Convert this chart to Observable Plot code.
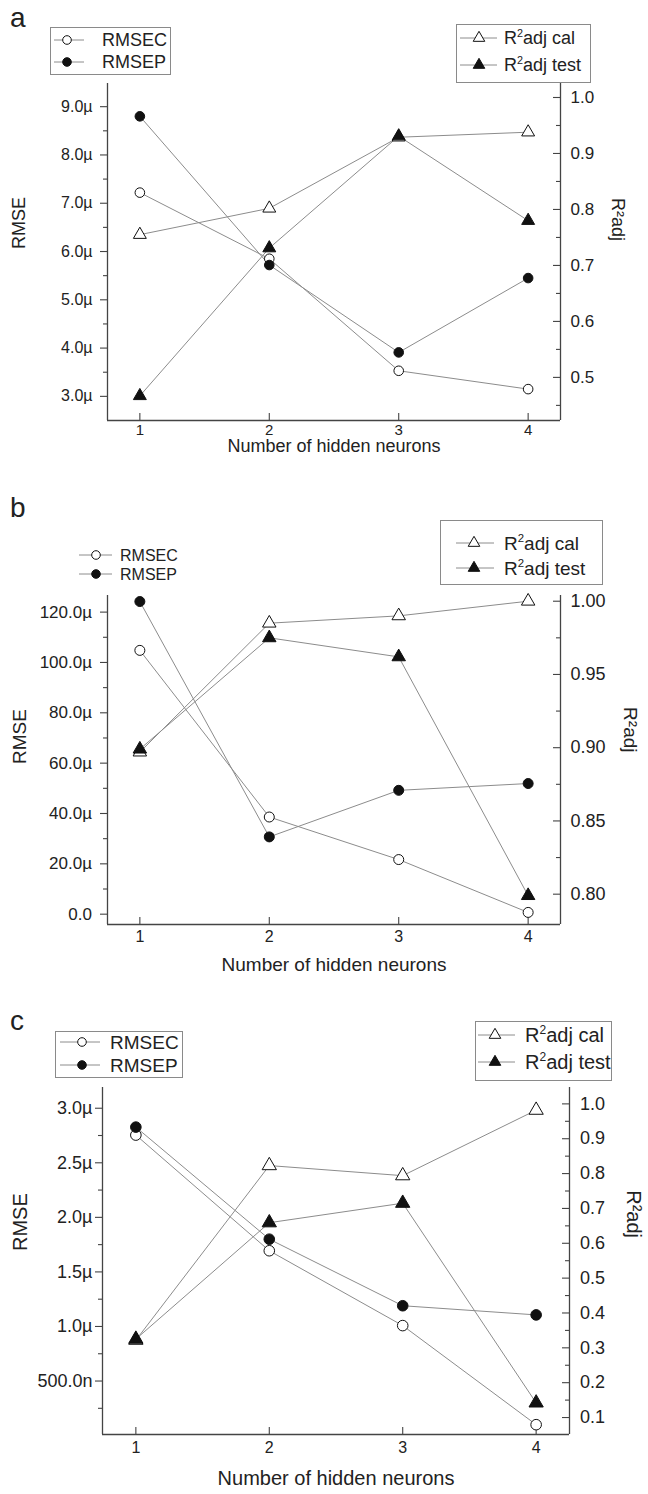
<!DOCTYPE html>
<html><head><meta charset="utf-8">
<script src="https://cdn.jsdelivr.net/npm/d3@7"></script>
<script src="https://cdn.jsdelivr.net/npm/@observablehq/plot@0.6"></script>
<style>
body{margin:0;background:#fff;}
#root{position:relative;width:648px;height:1494px;overflow:hidden;background:#fff;}
</style></head><body><div id="root"></div>
<script>
// ---------- data ----------
const neurons = [1, 2, 3, 4];
const xTickLabels = ["1", "2", "3", "4"];
const xTitle = "Number of hidden neurons";
const seriesNames = ["RMSEC", "RMSEP", "R²adj cal", "R²adj test"];

// panel a (RMSE in µ)
const rmsecA = [7.22, 5.85, 3.53, 3.15];
const rmsepA = [8.80, 5.72, 3.91, 5.45];
const r2CalA = [0.755, 0.802, 0.929, 0.938];
const r2TestA = [0.467, 0.731, 0.931, 0.780];
const rmseTicksA = [3, 4, 5, 6, 7, 8, 9];
const rmseLabelsA = ["3.0µ", "4.0µ", "5.0µ", "6.0µ", "7.0µ", "8.0µ", "9.0µ"];
const rmseMinorA = [3.5, 4.5, 5.5, 6.5, 7.5, 8.5];
const r2TicksA = [0.5, 0.6, 0.7, 0.8, 0.9, 1.0];
const r2LabelsA = ["0.5", "0.6", "0.7", "0.8", "0.9", "1.0"];
const r2MinorA = [0.45, 0.55, 0.65, 0.75, 0.85, 0.95];

// panel b (RMSE in µ)
const rmsecB = [104.8, 38.6, 21.7, 0.7];
const rmsepB = [124.2, 30.7, 49.2, 51.9];
const r2CalB = [0.897, 0.985, 0.990, 1.000];
const r2TestB = [0.899, 0.975, 0.962, 0.799];
const rmseTicksB = [0, 20, 40, 60, 80, 100, 120];
const rmseLabelsB = ["0.0", "20.0µ", "40.0µ", "60.0µ", "80.0µ", "100.0µ", "120.0µ"];
const rmseMinorB = [10, 30, 50, 70, 90, 110];
const r2TicksB = [0.80, 0.85, 0.90, 0.95, 1.00];
const r2LabelsB = ["0.80", "0.85", "0.90", "0.95", "1.00"];
const r2MinorB = [0.825, 0.875, 0.925, 0.975];

// panel c (RMSE in µ)
const rmsecC = [2.754, 1.694, 1.008, 0.10];
const rmsepC = [2.827, 1.80, 1.19, 1.106];
const r2CalC = [0.322, 0.823, 0.794, 0.982];
const r2TestC = [0.325, 0.659, 0.715, 0.142];
const rmseTicksC = [0.5, 1.0, 1.5, 2.0, 2.5, 3.0];
const rmseLabelsC = ["500.0n", "1.0µ", "1.5µ", "2.0µ", "2.5µ", "3.0µ"];
const rmseMinorC = [0.25, 0.75, 1.25, 1.75, 2.25, 2.75];
const r2TicksC = [0.1, 0.2, 0.3, 0.4, 0.5, 0.6, 0.7, 0.8, 0.9, 1.0];
const r2LabelsC = ["0.1", "0.2", "0.3", "0.4", "0.5", "0.6", "0.7", "0.8", "0.9", "1.0"];
const r2MinorC = [0.15, 0.25, 0.35, 0.45, 0.55, 0.65, 0.75, 0.85, 0.95];

// ---------- layout ----------
const FONT = '"Liberation Sans", Arial, Helvetica, sans-serif';
const AX = "#444", LN = "#8c8c8c", MK = "#111", TXT = "#222";
const root = document.getElementById("root");

const panels = [
  {top: 0, height: 470, mt: 83, mb: 50, ml: 107, mr: 88, yL: [2.5, 9.48], yR: [0.423, 1.025],
   rmsec: rmsecA, rmsep: rmsepA, cal: r2CalA, test: r2TestA,
   lMaj: rmseTicksA, lLab: rmseLabelsA, lMin: rmseMinorA, rMaj: r2TicksA, rLab: r2LabelsA, rMin: r2MinorA,
   lfs: 16, rfs: 17, xfs: 15, tfs: 18, lDx: -15, rDx: 10, xlDy: 14, xtDy: 31.5,
   ytX: 18.5, ytDy: -3, rtX: 617, rtDy: -11, r: 4.8},
  {top: 470, height: 495, mt: 125, mb: 41, ml: 107, mr: 88, yL: [-4.1, 126.6], yR: [0.7793, 1.0039],
   rmsec: rmsecB, rmsep: rmsepB, cal: r2CalB, test: r2TestB,
   lMaj: rmseTicksB, lLab: rmseLabelsB, lMin: rmseMinorB, rMaj: r2TicksB, rLab: r2LabelsB, rMin: r2MinorB,
   lfs: 17, rfs: 18, xfs: 16, tfs: 19, lDx: -15.5, rDx: 10, xlDy: 17, xtDy: 46,
   ytX: 19.5, ytDy: 4, rtX: 630, rtDy: -7.5, r: 5},
  {top: 965, height: 529, mt: 122, mb: 60, ml: 102, mr: 79, yL: [0.01, 3.19], yR: [0.0513, 1.047],
   rmsec: rmsecC, rmsep: rmsepC, cal: r2CalC, test: r2TestC,
   lMaj: rmseTicksC, lLab: rmseLabelsC, lMin: rmseMinorC, rMaj: r2TicksC, rLab: r2LabelsC, rMin: r2MinorC,
   lfs: 18, rfs: 18, xfs: 16, tfs: 20, lDx: -10, rDx: 10.5, xlDy: 18, xtDy: 50,
   ytX: 20, ytDy: -10, rtX: 633, rtDy: -23, r: 5.3}
];

function layer(p, yDomain, marks) {
  const svg = Plot.plot({
    width: 648, height: p.height,
    marginTop: p.mt, marginBottom: p.mb, marginLeft: p.ml, marginRight: p.mr,
    x: {domain: [0.75, 4.25], axis: null},
    y: {domain: yDomain, axis: null},
    style: {background: "transparent", fontFamily: FONT, color: TXT, overflow: "visible"},
    marks
  });
  svg.style.position = "absolute";
  svg.style.top = p.top + "px";
  svg.style.left = "0px";
  root.appendChild(svg);
}

const series = (vals) => ({x: (d) => d, y: (d, i) => vals[i]});

for (const p of panels) {
  const innerW = 648 - p.ml - p.mr;
  const innerH = p.height - p.mt - p.mb;
  // left scale: axes + lines
  layer(p, p.yL, [
    Plot.ruleX([0.75], {stroke: AX, strokeWidth: 1.3}),
    Plot.ruleY([p.yL[0]], {stroke: AX, strokeWidth: 1.3}),
    Plot.ruleY(p.lMaj, {stroke: AX, strokeWidth: 1.1, insetLeft: -7, insetRight: innerW}),
    Plot.ruleY(p.lMin, {stroke: AX, strokeWidth: 1.1, insetLeft: -4, insetRight: innerW}),
    Plot.text(p.lMaj, {y: (d) => d, text: (d, i) => p.lLab[i], frameAnchor: "left", textAnchor: "end", dx: p.lDx, fontSize: p.lfs, fill: TXT}),
    Plot.ruleX(neurons, {stroke: AX, strokeWidth: 1.1, insetTop: innerH - 7}),
    Plot.text(neurons, {x: (d) => d, text: (d, i) => xTickLabels[i], frameAnchor: "bottom", dy: p.xlDy, fontSize: p.xfs, fill: TXT}),
    Plot.text([xTitle], {frameAnchor: "bottom", dy: p.xtDy, fontSize: p.tfs, fill: TXT}),
    Plot.text(["RMSE"], {frameAnchor: "left", rotate: -90, dx: p.ytX - p.ml, dy: p.ytDy, fontSize: p.tfs, fill: TXT}),
    Plot.line(neurons, {...series(p.rmsec), stroke: LN, strokeWidth: 1}),
    Plot.line(neurons, {...series(p.rmsep), stroke: LN, strokeWidth: 1})
  ]);
  // right scale: axis + lines
  layer(p, p.yR, [
    Plot.ruleX([4.25], {stroke: AX, strokeWidth: 1.3}),
    Plot.ruleY(p.rMaj, {stroke: AX, strokeWidth: 1.1, insetLeft: innerW - 7}),
    Plot.ruleY(p.rMin, {stroke: AX, strokeWidth: 1.1, insetLeft: innerW - 4}),
    Plot.text(p.rMaj, {y: (d) => d, text: (d, i) => p.rLab[i], frameAnchor: "right", textAnchor: "start", dx: p.rDx, fontSize: p.rfs, fill: TXT}),
    Plot.text(["R²adj"], {frameAnchor: "right", rotate: 90, dx: p.rtX - (648 - p.mr), dy: p.rtDy, fontSize: p.tfs, fill: TXT}),
    Plot.line(neurons, {...series(p.cal), stroke: LN, strokeWidth: 1}),
    Plot.line(neurons, {...series(p.test), stroke: LN, strokeWidth: 1})
  ]);
  // markers
  layer(p, p.yL, [
    Plot.dot(neurons, {...series(p.rmsec), symbol: "circle", r: p.r, fill: "white", stroke: MK, strokeWidth: 1}),
    Plot.dot(neurons, {...series(p.rmsep), symbol: "circle", r: p.r, fill: MK, stroke: MK, strokeWidth: 1})
  ]);
  layer(p, p.yR, [
    Plot.dot(neurons, {...series(p.cal), symbol: "triangle", r: p.r, fill: "white", stroke: MK, strokeWidth: 1}),
    Plot.dot(neurons, {...series(p.test), symbol: "triangle", r: p.r, fill: MK, stroke: MK, strokeWidth: 1})
  ]);
}

// ---------- panel letters and legends ----------
const ov = d3.create("svg").attr("width", 648).attr("height", 1494)
  .style("position", "absolute").style("top", "0px").style("left", "0px")
  .style("font-family", FONT);

const letters = [{t: "a", x: 10, y: 27}, {t: "b", x: 10, y: 517}, {t: "c", x: 10, y: 1030}];
for (const l of letters) ov.append("text").attr("x", l.x).attr("y", l.y).attr("font-size", 28).attr("fill", TXT).text(l.t);

const legends = [
  {box: [50, 27, 120, 47], lx: [54, 84], sx: 67, tx: 102, fs: 18, rows: [40, 62], kind: "circle", names: [0, 1]},
  {box: [456, 24, 134, 58], lx: [460, 497], sx: 479, tx: 504, fs: 18, rows: [38, 65], kind: "triangle", names: [2, 3]},
  {box: null, lx: [79, 112], sx: 96, tx: 120, fs: 16, rows: [555, 574], kind: "circle", names: [0, 1]},
  {box: [440, 520, 162, 64], lx: [456, 494], sx: 474, tx: 504, fs: 19, rows: [543, 568], kind: "triangle", names: [2, 3]},
  {box: [55, 1031, 127, 46], lx: [60, 100], sx: 82, tx: 110, fs: 19, rows: [1042, 1065], kind: "circle", names: [0, 1]},
  {box: [475, 1021, 136, 59], lx: [478, 515], sx: 495, tx: 525, fs: 20, rows: [1035, 1062], kind: "triangle", names: [2, 3]}
];
const triPath = d3.symbol().type(d3.symbolTriangle).size(58)();
for (const L of legends) {
  if (L.box) ov.append("rect").attr("x", L.box[0] + 0.5).attr("y", L.box[1] + 0.5).attr("width", L.box[2]).attr("height", L.box[3])
    .attr("fill", "white").attr("stroke", "#8a8a8a").attr("stroke-width", 1);
  L.rows.forEach((cy, k) => {
    const fill = k === 0 ? "white" : MK;
    ov.append("line").attr("x1", L.lx[0]).attr("x2", L.lx[1]).attr("y1", cy).attr("y2", cy).attr("stroke", LN).attr("stroke-width", 1);
    if (L.kind === "circle") ov.append("circle").attr("cx", L.sx).attr("cy", cy).attr("r", 4.3).attr("fill", fill).attr("stroke", MK);
    else ov.append("path").attr("d", triPath).attr("transform", `translate(${L.sx},${cy})`).attr("fill", fill).attr("stroke", MK);
    const name = seriesNames[L.names[k]];
    const t = ov.append("text").attr("x", L.tx).attr("y", cy + L.fs * 0.35).attr("font-size", L.fs).attr("fill", TXT);
    if (name.startsWith("R²")) {
      t.append("tspan").text("R");
      t.append("tspan").attr("dy", -L.fs * 0.4).attr("font-size", L.fs * 0.6).text("2");
      t.append("tspan").attr("dy", L.fs * 0.4).text(name.slice(2));
    } else t.text(name);
  });
}
root.appendChild(ov.node());
</script>
</body></html>
